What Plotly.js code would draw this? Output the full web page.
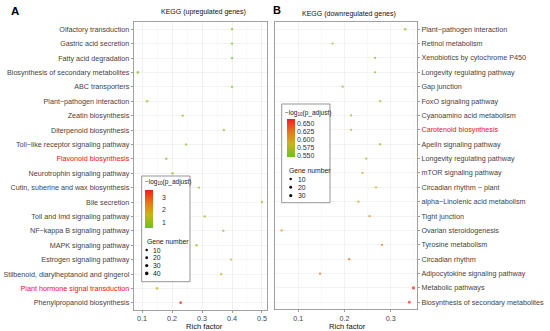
<!DOCTYPE html>
<html>
<head>
<meta charset="utf-8">
<script src="https://cdn.plot.ly/plotly-3.0.1.min.js"></script>
<style>html,body{margin:0;padding:0;background:#fff;}#chart{width:550px;height:331px;}</style>
</head>
<body>
<div id="chart"></div>
<script>
// ---------- DATA ----------
const categoriesA = [
  "Olfactory transduction","Gastric acid secretion","Fatty acid degradation",
  "Biosynthesis of secondary metabolites","ABC transporters","Plant\u2212pathogen interaction",
  "Zeatin biosynthesis","Diterpenoid biosynthesis","Toll\u2212like receptor signaling pathway",
  "Flavonoid biosynthesis","Neurotrophin signaling pathway","Cutin, suberine and wax biosynthesis",
  "Bile secretion","Toll and Imd signaling pathway","NF\u2212kappa B signaling pathway",
  "MAPK signaling pathway","Estrogen signaling pathway","Stilbenoid, diarylheptanoid and gingerol",
  "Plant hormone signal transduction","Phenylpropanoid biosynthesis"
];
const richA  = [0.40,0.40,0.40,0.086,0.40,0.117,0.236,0.373,0.247,0.181,0.202,0.29,0.50,0.309,0.371,0.282,0.397,0.364,0.15,0.229];
const padjA  = [0.65,0.65,0.65,0.70,0.65,0.80,0.75,0.75,0.80,0.90,0.90,0.95,0.85,0.95,1.20,1.20,1.55,1.45,1.60,3.55];
const countA = [4,4,4,12,4,8,5,3,6,8,6,5,3,6,5,9,6,7,15,20];
const highlightA = ["Flavonoid biosynthesis","Plant hormone signal transduction"];

const categoriesB = [
  "Plant\u2212pathogen interaction","Retinol metabolism","Xenobiotics by cytochrome P450",
  "Longevity regulating pathway","Gap junction","FoxO signaling pathway",
  "Cyanoamino acid metabolism","Carotenoid biosynthesis","Apelin signaling pathway",
  "Longevity regulating pathway","mTOR signaling pathway","Circadian rhythm \u2212 plant",
  "alpha\u2212Linolenic acid metabolism","Tight junction","Ovarian steroidogenesis",
  "Tyrosine metabolism","Circadian rhythm","Adipocytokine signaling pathway",
  "Metabolic pathways","Biosynthesis of secondary metabolites"
];
const richB  = [0.331,0.174,0.266,0.266,0.196,0.277,0.214,0.214,0.277,0.247,0.239,0.268,0.230,0.254,0.064,0.281,0.210,0.147,0.349,0.340];
const padjB  = [0.552,0.550,0.550,0.550,0.552,0.555,0.558,0.558,0.565,0.570,0.578,0.585,0.595,0.620,0.625,0.625,0.628,0.632,0.662,0.660];
const countB = [8,3,3,3,3,4,3,3,4,4,4,4,4,4,2,4,4,4,30,20];
const highlightB = ["Carotenoid biosynthesis"];

const sizeLegendA = [10,20,30,40];
const sizeLegendB = [10,20,30];
const colorTicksA = [1,2,3];
const colorTicksB = [0.55,0.575,0.60,0.625,0.65];

// ---------- LAYOUT HELPERS ----------
const W = 550, H = 331;
const PX = p => p / W;
const PY = p => 1 - p / H;
const sz = n => 2.2 + n * 0.035;
const FONT = "Liberation Sans, Arial, sans-serif";
const colorscale = [[0,'#6cc21f'],[0.35,'#c9b41b'],[0.65,'#e57b18'],[1,'#ef1f1d']];
const label = (c, hl) => hl.includes(c) ? '<span style="color:#ee1111">' + c + '</span>' : c;

const idxA = categoriesA.map((_, i) => i);
const idxB = categoriesB.map((_, i) => i);

const traceA = {
  type:'scatter', mode:'markers', x: richA, y: idxA, xaxis:'x', yaxis:'y',
  showlegend:false, hoverinfo:'x+y',
  marker:{
    size: countA.map(sz), color: padjA, colorscale: colorscale,
    cmin: 0.54, cmax: 3.6, line:{width:0},
    colorbar:{
      x: PX(145), xanchor:'left', y: PY(190), yanchor:'top',
      len: 38, lenmode:'pixels', thickness: 8, thicknessmode:'pixels',
      xpad:0, ypad:0, outlinewidth:0, bgcolor:'rgba(0,0,0,0)',
      tickvals: colorTicksA, ticks:'outside', ticklen:8, tickcolor:'rgba(0,0,0,0)',
      tickfont:{family:FONT, size:7, color:'#333'}
    }
  }
};
const traceB = {
  type:'scatter', mode:'markers', x: richB, y: idxB, xaxis:'x2', yaxis:'y2',
  showlegend:false, hoverinfo:'x+y',
  marker:{
    size: countB.map(sz), color: padjB, colorscale: colorscale,
    cmin: 0.544, cmax: 0.665, line:{width:0},
    colorbar:{
      x: PX(286.5), xanchor:'left', y: PY(119.3), yanchor:'top',
      len: 38.4, lenmode:'pixels', thickness: 7.5, thicknessmode:'pixels',
      xpad:0, ypad:0, outlinewidth:0, bgcolor:'rgba(0,0,0,0)',
      tickvals: colorTicksB, tickformat:'.3f', ticks:'outside', ticklen:1, tickcolor:'rgba(0,0,0,0)',
      tickfont:{family:FONT, size:7, color:'#333'}
    }
  }
};

const axisCommon = {
  showline:true, mirror:true, linecolor:'#8a8a8a', linewidth:0.8,
  ticks:'outside', ticklen:2.5, tickwidth:0.6, tickcolor:'#555',
  gridcolor:'#ebebeb', gridwidth:0.6, zeroline:false,
  tickfont:{family:FONT, size:7.2, color:'#444444'}
};

const shapes = [];
const annotations = [];

function legendBox(x0, x1, y0, y1) {
  shapes.push({type:'rect', xref:'paper', yref:'paper', layer:'above',
    x0:PX(x0), x1:PX(x1), y0:PY(y1), y1:PY(y0),
    line:{color:'#8a8a8a', width:0.9}, fillcolor:'#ffffff'});
}
function txt(text, x, y, size, opts) {
  annotations.push(Object.assign({text:text, xref:'paper', yref:'paper', x:PX(x), y:PY(y),
    xanchor:'left', yanchor:'middle', showarrow:false,
    font:{family:FONT, size:size, color:'#222'}}, opts || {}));
}
function sizeLegend(vals, xDot, xText, yStart, step, gy, gx) {
  txt('Gene number', gx, gy, 6.8);
  vals.forEach((v, i) => {
    const cy = yStart + i * step, r = sz(v) / 2;
    shapes.push({type:'circle', xref:'paper', yref:'paper', layer:'above',
      x0:PX(xDot - r), x1:PX(xDot + r), y0:PY(cy + r), y1:PY(cy - r),
      line:{width:0}, fillcolor:'#111'});
    txt(String(v), xText, cy, 6.8);
  });
}

// Legend A
legendBox(141.7, 190, 176, 281.7);
txt('\u2212log<sub>10</sub>(p_adjust)', 143, 182, 6.5);
sizeLegend(sizeLegendA, 146.7, 150.5, 250, 7.8, 241.7, 144.5);
// Legend B
legendBox(281.7, 330, 104, 202.7);
txt('\u2212log<sub>10</sub>(p_adjust)', 283, 113.3, 6.5);
sizeLegend(sizeLegendB, 290.7, 295.5, 179, 8.3, 170, 286.5);

// Titles / panel letters / axis titles
txt('<b>A</b>', 9, 11.5, 11.5, {font:{family:FONT, size:11.5, color:'#000'}});
txt('<b>B</b>', 271, 9.5, 11, {font:{family:FONT, size:11, color:'#000'}});
txt('KEGG (upregulated genes)', 203, 12.5, 7, {xanchor:'center', font:{family:FONT, size:7, color:'#111'}});
txt('KEGG (downregulated genes)', 348.8, 13.8, 7, {xanchor:'center', font:{family:FONT, size:7, color:'#111'}});
txt('Rich factor', 204, 326.3, 7.6, {xanchor:'center', font:{family:FONT, size:7.6, color:'#111'}});
txt('Rich factor', 347, 326.3, 7.6, {xanchor:'center', font:{family:FONT, size:7.6, color:'#111'}});

const layout = {
  width: W, height: H, autosize:false,
  margin:{l:0, r:0, t:0, b:0, pad:0},
  paper_bgcolor:'#ffffff', plot_bgcolor:'#ffffff',
  font:{family:FONT},
  showlegend:false,
  xaxis: Object.assign({}, axisCommon, {
    domain:[PX(134), PX(267)], anchor:'y', range:[0.0733, 0.5167],
    tickvals:[0.1,0.2,0.3,0.4,0.5], ticklen:2,
    minor:{tickvals:[0.1,0.15,0.2,0.25,0.3,0.35,0.4,0.45,0.5], showgrid:true, gridcolor:'#f4f4f4', gridwidth:0.5, ticks:''}
  }),
  yaxis: Object.assign({}, axisCommon, {
    domain:[PY(310), PY(22)], anchor:'x', range:[19.5, -0.5],
    tickvals: idxA, ticktext: categoriesA.map(c => label(c, highlightA))
  }),
  xaxis2: Object.assign({}, axisCommon, {
    domain:[PX(275), PX(416.7)], anchor:'y2', range:[0.0496, 0.356],
    tickvals:[0.1,0.2,0.3], ticklen:2,
    minor:{tickvals:[0.05,0.15,0.25,0.35], showgrid:true, gridcolor:'#f4f4f4', gridwidth:0.5, ticks:''}
  }),
  yaxis2: Object.assign({}, axisCommon, {
    domain:[PY(309.5), PY(22)], anchor:'x2', side:'right', range:[19.5, -0.5],
    tickvals: idxB, ticktext: categoriesB.map(c => label(c, highlightB))
  }),
  shapes: shapes,
  annotations: annotations
};

Plotly.newPlot('chart', [traceA, traceB], layout, {staticPlot:true, displayModeBar:false});
</script>
</body>
</html>
